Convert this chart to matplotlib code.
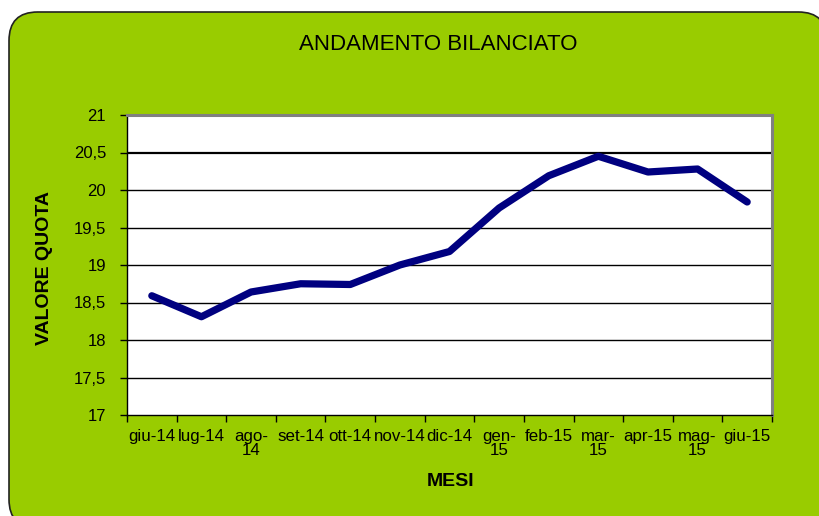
import matplotlib.pyplot as plt
from matplotlib.patches import FancyBboxPatch
from matplotlib.ticker import MultipleLocator, FixedLocator

plt.rcParams['font.family'] = ['Liberation Sans', 'DejaVu Sans']

# dati
mesi = ["giu-14", "lug-14", "ago-\n14", "set-14", "ott-14", "nov-14", "dic-14",
        "gen-\n15", "feb-15", "mar-\n15", "apr-15", "mag-\n15", "giu-15"]
valore_quota = [18.59, 18.31, 18.64, 18.75, 18.74, 19.00, 19.18,
                19.76, 20.19, 20.45, 20.24, 20.28, 19.84]

W, H = 819, 516
fig = plt.figure(figsize=(W / 100, H / 100), dpi=100)
fig.patch.set_facecolor("white")

# sfondo verde arrotondato
box = FancyBboxPatch((9 / W, -12 / H), 818 / W, (H - 12 + 12) / H,
                     boxstyle="round,pad=0,rounding_size=0.035",
                     transform=fig.transFigure, facecolor="#99CC00",
                     edgecolor="#222222", linewidth=1.2, zorder=-5,
                     mutation_aspect=W / H)
fig.patches.append(box)

ax = fig.add_axes([127 / W, 1 - 415 / H, (772 - 127) / W, (415 - 115) / H])
ax.set_facecolor("white")

x = range(len(mesi))
ax.plot(x, valore_quota, color="#000080", linewidth=5.2, solid_capstyle="round",
        solid_joinstyle="round", zorder=3)

ax.set_xlim(-0.5, len(mesi) - 0.5)
ax.set_ylim(17, 21)
ax.yaxis.set_major_locator(MultipleLocator(0.5))
ax.set_yticklabels([f"{v:g}".replace(".", ",") for v in ax.get_yticks()])
for v in ax.get_yticks():
    if 17 < v < 21:
        ax.axhline(v, color="black", linewidth=1.6 if v == 20.5 else 1.0, zorder=1)

ax.set_xticks(list(x))
ax.set_xticklabels(mesi, linespacing=0.95)
ax.xaxis.set_minor_locator(FixedLocator([i - 0.5 for i in range(len(mesi) + 1)]))
ax.tick_params(axis="x", which="major", length=0, pad=10, labelsize=12.2)
ax.tick_params(axis="x", which="minor", length=5, width=1, direction="out")
ax.tick_params(axis="y", length=5, width=1, pad=10, labelsize=12)

for s in ["left", "bottom"]:
    ax.spines[s].set_color("black")
    ax.spines[s].set_linewidth(1.0)
for s in ["top", "right"]:
    ax.spines[s].set_color("#808080")
    ax.spines[s].set_linewidth(2.2)

fig.text(438 / W, 1 - 45 / H, "ANDAMENTO BILANCIATO", fontsize=16,
         ha="center", va="center")
fig.text(45 / W, 1 - 268 / H, "VALORE QUOTA", fontsize=14, fontweight="bold",
         rotation=90, ha="center", va="center")
fig.text(451 / W, 1 - 482 / H, "MESI", fontsize=14, fontweight="bold",
         ha="center", va="center")

fig.savefig("out.png", dpi=100, facecolor=fig.get_facecolor())
